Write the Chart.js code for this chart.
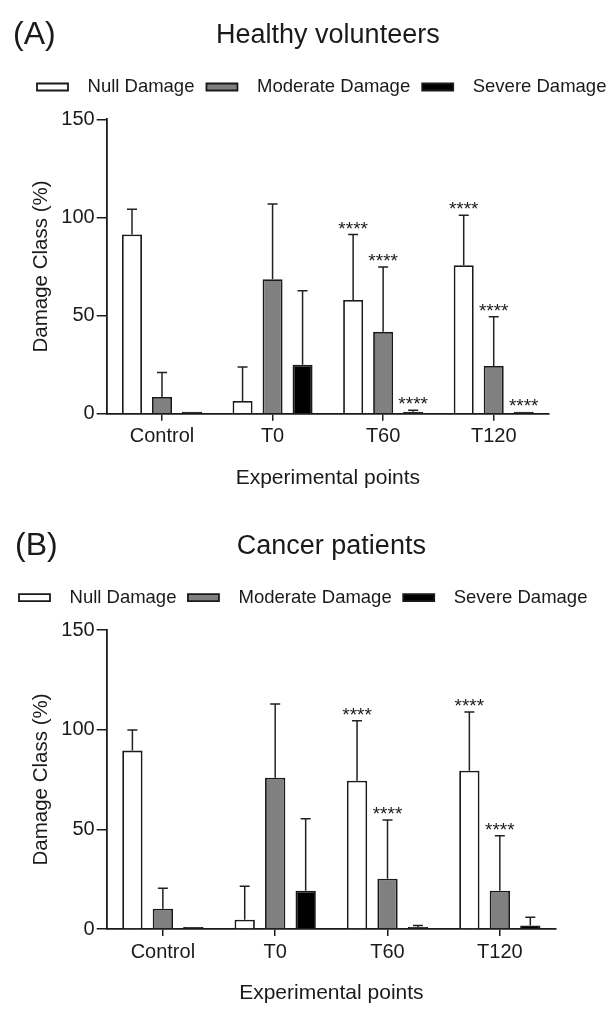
<!DOCTYPE html>
<html>
<head>
<meta charset="utf-8">
<script src="https://cdn.jsdelivr.net/npm/chart.js@4/dist/chart.umd.min.js"></script>
<style>
  html, body { margin: 0; padding: 0; background: #fff; }
  #wrapA { position: absolute; left: 0; top: 0; width: 608px; height: 505px; }
  #wrapB { position: absolute; left: 0; top: 510px; width: 608px; height: 499px; }
</style>
</head>
<body>
<div id="wrapA"><canvas id="chartA" width="608" height="505"></canvas></div>
<div id="wrapB"><canvas id="chartB" width="608" height="499"></canvas></div>
<script>
const categories = ['Control', 'T0', 'T60', 'T120'];
const seriesNames = ['Null Damage', 'Moderate Damage', 'Severe Damage'];
const yTicks = [0, 50, 100, 150];

// (A) healthy volunteers, mean and SD (%)
const healthyNull = [91.3, 6.5, 57.9, 75.7];
const healthyNullSd = [12.9, 17.3, 33.4, 25.4];
const healthyModerate = [8.5, 68.5, 41.7, 24.3];
const healthyModerateSd = [12.5, 38.4, 33.0, 25.1];
const healthySevere = [0.5, 25.0, 0.4, 0.3];
const healthySevereSd = [0, 37.6, 1.3, 0];
const healthySigNull = ['', '', '****', '****'];
const healthySigModerate = ['', '', '****', '****'];
const healthySigSevere = ['', '', '****', '****'];

// (B) cancer patients
const cancerNull = [89.5, 4.7, 74.4, 79.4];
const cancerNullSd = [10.3, 16.7, 30.1, 29.5];
const cancerModerate = [10.2, 75.9, 25.2, 19.2];
const cancerModerateSd = [10.2, 37.0, 29.5, 27.6];
const cancerSevere = [0.5, 19.2, 0.5, 1.7];
const cancerSevereSd = [0, 36.1, 1.3, 4.2];
const cancerSigNull = ['', '', '****', '****'];
const cancerSigModerate = ['', '', '****', '****'];
const cancerSigSevere = ['', '', '', ''];

const fills = ['#ffffff', '#808080', '#000000'];
const ink = '#1a1a1a';

Chart.defaults.font.family = "'Liberation Sans', Arial, sans-serif";
Chart.defaults.color = ink;

// error bars (upper only) + significance stars
const errorBars = {
  id: 'errorBars',
  afterDatasetsDraw(chart) {
    const ctx = chart.ctx;
    const y = chart.scales.y;
    ctx.save();
    ctx.strokeStyle = '#222';
    ctx.lineWidth = 1.5;
    ctx.fillStyle = ink;
    ctx.font = "19px 'Liberation Sans', Arial, sans-serif";
    ctx.textAlign = 'center';
    ctx.textBaseline = 'alphabetic';
    chart.data.datasets.forEach((ds, i) => {
      chart.getDatasetMeta(i).data.forEach((bar, j) => {
        let top = bar.y;
        if (ds.sd[j] > 0) {
          top = y.getPixelForValue(ds.data[j] + ds.sd[j]);
          ctx.beginPath();
          ctx.moveTo(bar.x, bar.y);
          ctx.lineTo(bar.x, top);
          ctx.moveTo(bar.x - 5, top);
          ctx.lineTo(bar.x + 5, top);
          ctx.stroke();
        }
        if (ds.sig[j]) ctx.fillText(ds.sig[j], bar.x, top);
      });
    });
    ctx.restore();
  }
};

const panelLetter = {
  id: 'panelLetter',
  afterDraw(chart, args, opts) {
    const ctx = chart.ctx;
    ctx.save();
    ctx.font = "32px 'Liberation Sans', Arial, sans-serif";
    ctx.fillStyle = ink;
    ctx.textBaseline = 'alphabetic';
    ctx.fillText(opts.text, opts.x, opts.y);
    ctx.restore();
  }
};

function spacedLabels(chart) {
  const items = Chart.defaults.plugins.legend.labels.generateLabels(chart);
  items.forEach(it => { it.text = '  ' + it.text; });
  return items;
}

function buildChart(id, series, sds, sigs, L) {
  return new Chart(document.getElementById(id), {
    type: 'bar',
    data: {
      labels: categories,
      datasets: series.map((values, i) => ({
        label: seriesNames[i],
        data: values,
        sd: sds[i],
        sig: sigs[i],
        backgroundColor: fills[i],
        borderColor: ink,
        borderWidth: 1.8,
        minBarLength: 2,
        categoryPercentage: 0.814,
        barPercentage: 0.667
      }))
    },
    options: {
      responsive: false,
      animation: false,
      devicePixelRatio: 1,
      layout: { padding: { left: L.padLeft, right: L.padRight, top: 0, bottom: L.padBottom } },
      plugins: {
        title: {
          display: true, text: L.title, fullSize: false, color: ink,
          font: { size: 27, weight: 'normal' },
          padding: { top: L.titleTop, bottom: L.titleBottom }
        },
        legend: {
          display: true, position: 'top', weight: 1600, align: 'center',
          labels: {
            boxWidth: 31, boxHeight: 7, padding: L.legendPad, color: ink,
            font: { size: 18.5 }, generateLabels: spacedLabels
          }
        },
        subtitle: {
          display: true, text: '',
          font: { size: 1, lineHeight: 1 },
          padding: { top: L.spacer, bottom: 0 }
        },
        tooltip: { enabled: false },
        panelLetter: { text: L.letter, x: L.letterX, y: L.letterY }
      },
      scales: {
        x: {
          grid: { display: true, drawOnChartArea: false, drawTicks: true, tickLength: 7, offset: false, color: ink, lineWidth: 1.5 },
          border: { display: true, color: ink, width: 1.8 },
          ticks: { font: { size: 20 }, color: ink, padding: 4, maxRotation: 0 },
          title: { display: true, text: 'Experimental points', font: { size: 21 }, color: ink, padding: 0 },
          afterFit: s => { s.height = 77.2; }
        },
        y: {
          min: 0, max: 150,
          afterBuildTicks: s => { s.ticks = yTicks.map(v => ({ value: v })); },
          grid: { display: true, drawOnChartArea: false, drawTicks: true, tickLength: 10, color: ink, lineWidth: 1.5 },
          border: { display: true, color: ink, width: 1.8 },
          ticks: { font: { size: 20 }, color: ink, padding: 2 },
          title: { display: true, text: 'Damage Class (%)', font: { size: 20.5 }, color: ink, padding: { top: L.yTitlePad, bottom: 0 } },
          afterFit: s => { s.width = L.yWidth; }
        },
        yR: {
          position: 'right', display: true,
          grid: { display: false }, border: { display: false },
          ticks: { display: false }, title: { display: false },
          afterFit: s => { s.width = L.rightWidth; }
        }
      }
    },
    plugins: [errorBars, panelLetter]
  });
}

buildChart('chartA',
  [healthyNull, healthyModerate, healthySevere],
  [healthyNullSd, healthyModerateSd, healthySevereSd],
  [healthySigNull, healthySigModerate, healthySigSevere],
  { title: 'Healthy volunteers', letter: '(A)', letterX: 13, letterY: 44,
    padLeft: 20, padRight: -15.4, padBottom: 14.1, titleTop: 19.8, titleBottom: 13.55,
    legendPad: 12, spacer: 12.05, yWidth: 86.7, yTitlePad: 9.4, rightWidth: 74.4 });

buildChart('chartB',
  [cancerNull, cancerModerate, cancerSevere],
  [cancerNullSd, cancerModerateSd, cancerSevereSd],
  [cancerSigNull, cancerSigModerate, cancerSigSevere],
  { title: 'Cancer patients', letter: '(B)', letterX: 15, letterY: 45,
    padLeft: -5, padRight: -3.4, padBottom: 2.8, titleTop: 20.3, titleBottom: 14.15,
    legendPad: 11.5, spacer: 12.15, yWidth: 111.7, yTitlePad: 34.4, rightWidth: 55.4 });
</script>
</body>
</html>
